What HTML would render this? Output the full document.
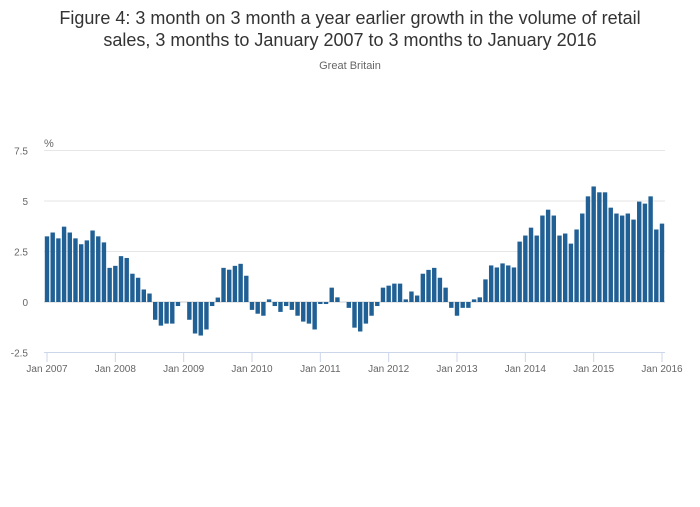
<!DOCTYPE html>
<html><head><meta charset="utf-8"><style>
body{margin:0;background:#fff;font-family:"Liberation Sans",sans-serif;}
</style></head><body>
<svg width="700" height="502" xmlns="http://www.w3.org/2000/svg">
<text x="350" y="24" text-anchor="middle" font-size="18" fill="#333">Figure 4: 3 month on 3 month a year earlier growth in the volume of retail</text>
<text x="350" y="46" text-anchor="middle" font-size="18" fill="#333">sales, 3 months to January 2007 to 3 months to January 2016</text>
<text x="350" y="69" text-anchor="middle" font-size="11" fill="#666">Great Britain</text>
<text x="44" y="147" font-size="11" fill="#666">%</text>
<g id="grid"></g><g id="bars"></g><g id="xaxis"></g>
</svg>
<script>
const yTicks=[7.5,5,2.5,0,-2.5];
const yTickLabels=["7.5","5","2.5","0","-2.5"];
const xTickLabels=["Jan 2007","Jan 2008","Jan 2009","Jan 2010","Jan 2011","Jan 2012","Jan 2013","Jan 2014","Jan 2015","Jan 2016"];
const values=[
3.25,3.44,3.15,3.73,3.44,3.15,2.86,3.05,3.54,3.25,2.95,1.69,
1.79,2.27,2.18,1.4,1.2,0.62,0.42,-0.88,-1.17,-1.07,-1.07,-0.2,
0,-0.88,-1.56,-1.66,-1.36,-0.2,0.22,1.69,1.6,1.79,1.89,1.3,
-0.39,-0.58,-0.68,0.13,-0.2,-0.49,-0.2,-0.39,-0.68,-0.97,-1.07,-1.36,
-0.1,-0.1,0.71,0.23,0,-0.29,-1.27,-1.46,-1.07,-0.68,-0.2,0.71,
0.81,0.91,0.91,0.13,0.52,0.32,1.4,1.59,1.69,1.2,0.71,-0.29,
-0.68,-0.29,-0.29,0.13,0.23,1.12,1.81,1.71,1.91,1.81,1.71,2.99,
3.29,3.68,3.29,4.28,4.57,4.28,3.29,3.39,2.89,3.59,4.38,5.23,
5.72,5.43,5.43,4.67,4.38,4.28,4.38,4.08,4.97,4.87,5.23,3.59,
3.88];
const NS="http://www.w3.org/2000/svg";
const x0=47,x1=662,n=values.length;
const xs=i=>x0+(x1-x0)*i/(n-1);
const ys=v=>302-v*20.2;
const grid=document.getElementById('grid'),bars=document.getElementById('bars'),xa=document.getElementById('xaxis');
function mk(t,a,p){const e=document.createElementNS(NS,t);for(const k in a)e.setAttribute(k,a[k]);p.appendChild(e);return e;}
yTicks.forEach((v,i)=>{
 if(v!==-2.5){const l=mk('line',{x1:44,x2:665,y1:ys(v),y2:ys(v),stroke:v===0?'#ccc':'#e6e6e6'},grid);
 
 }
 const t=mk('text',{x:28,y:ys(v)+4,'text-anchor':'end','font-size':10,fill:'#666'},grid);
 t.textContent=yTickLabels[i];
 
 
});
values.forEach((v,i)=>{
 const y=Math.min(ys(v),ys(0)),h=Math.abs(ys(v)-ys(0));
 const r=mk('rect',{x:xs(i)-2.2,y:y,width:4.4,height:h,fill:'#206095'},bars);
 
 
});
const ax=mk('line',{x1:44,x2:665,y1:352.5,y2:352.5,stroke:'#ccd6eb'},xa);


xTickLabels.forEach((s,i)=>{
 const x=xs(i*12);
 const tk=mk('line',{x1:x,x2:x,y1:352,y2:362,stroke:'#ccd6eb'},xa);
 
 
 const t=mk('text',{x:x,y:372,'text-anchor':'middle','font-size':10,fill:'#666'},xa);
 t.textContent=s;
 
 
});
</script>
</body></html>
